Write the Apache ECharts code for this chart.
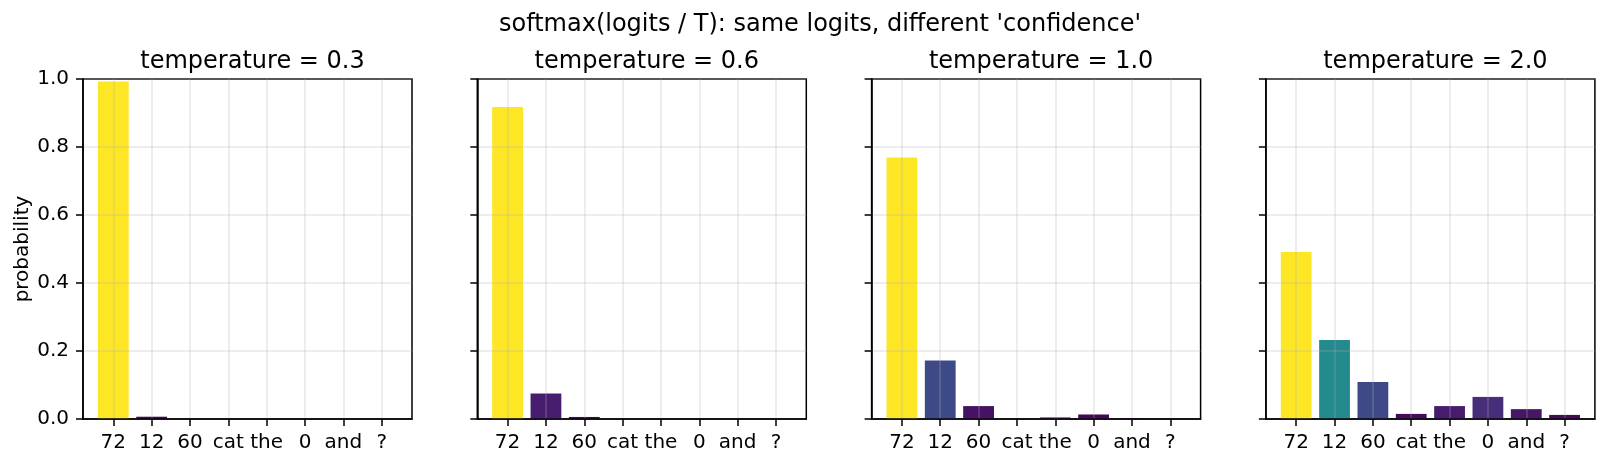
<!DOCTYPE html>
<html>
<head>
<meta charset="utf-8">
<script src="https://cdn.jsdelivr.net/npm/echarts@6/dist/echarts.min.js"></script>
<style>
  html, body { margin: 0; padding: 0; background: #fff; }
  #chart { width: 1607px; height: 464px; }
</style>
</head>
<body>
<div id="chart"></div>
<script>
// tokens on the x axis
var tokens = ['72', '12', '60', 'cat', 'the', '0', 'and', '?'];
var temperatures = ['0.3', '0.6', '1.0', '2.0'];
// probabilities, one array per temperature
var probT03 = [0.993, 0.0067, 0.0001, 0.0, 0.0, 0.0, 0.0, 0.0];
var probT06 = [0.918, 0.075, 0.006, 0.0001, 0.0003, 0.0008, 0.0002, 0.0];
var probT10 = [0.769, 0.172, 0.038, 0.0007, 0.0045, 0.0133, 0.0027, 0.0005];
var probT20 = [0.491, 0.232, 0.109, 0.015, 0.038, 0.065, 0.029, 0.012];

var probs = [probT03, probT06, probT10, probT20];
var viridis = ['#440154', '#482475', '#414487', '#355f8d', '#2a788e', '#21918c',
               '#22a884', '#44bf70', '#7ad151', '#bddf26', '#fde725'];
var FONT = 'DejaVu Sans';

var chart = echarts.init(document.getElementById('chart'));

var gridLeft0 = 83, gridStep = 394.3, gridW = 329, gridTop = 79, gridH = 340;
var tickIdx = tokens.map(function (t, i) { return i; });
var gridColor = 'rgba(176,176,176,0.3)';

var grids = [], xAxes = [], yAxes = [], series = [], vmaps = [];
var titles = [{
    text: "softmax(logits / T): same logits, different 'confidence'",
    left: 815, top: 8, textAlign: 'center',
    textStyle: { fontFamily: FONT, fontSize: 24, fontWeight: 'normal', color: '#000' }
}];

probs.forEach(function (p, k) {
    var left = gridLeft0 + k * gridStep;
    grids.push({
        left: left, top: gridTop, width: gridW, height: gridH,
        show: true, borderColor: '#000', borderWidth: 1.5, backgroundColor: 'transparent'
    });
    titles.push({
        text: 'temperature = ' + temperatures[k],
        left: left + gridW / 2, top: 45, textAlign: 'center',
        textStyle: { fontFamily: FONT, fontSize: 24, fontWeight: 'normal', color: '#000' }
    });
    xAxes.push({
        type: 'value', gridIndex: k, min: -0.79, max: 7.79, z: 3,
        axisLine: { show: true, onZero: false, lineStyle: { color: '#000', width: 1.5 } },
        axisTick: { show: true, length: 7, customValues: tickIdx, lineStyle: { color: '#000', width: 1.5 } },
        axisLabel: {
            customValues: tickIdx, margin: 14,
            fontFamily: FONT, fontSize: 20, color: '#000',
            formatter: function (v) { return tokens[Math.round(v)]; }
        },
        splitLine: { show: true, lineStyle: { color: gridColor, width: 1.5 } }
    });
    yAxes.push({
        type: 'value', gridIndex: k, min: 0, max: 1, interval: 0.2, z: 3,
        name: k === 0 ? 'probability' : '',
        nameLocation: 'middle', nameGap: 45,
        nameTextStyle: { fontFamily: FONT, fontSize: 20, color: '#000' },
        axisLine: { show: true, onZero: false, lineStyle: { color: '#000', width: 1.5 } },
        axisTick: { show: true, length: 7, lineStyle: { color: '#000', width: 1.5 } },
        axisLabel: {
            show: k === 0, margin: 14,
            fontFamily: FONT, fontSize: 20, color: '#000',
            formatter: function (v) { return v.toFixed(1); }
        },
        splitLine: { show: true, lineStyle: { color: gridColor, width: 1.5 } }
    });
    series.push({
        type: 'bar', xAxisIndex: k, yAxisIndex: k, z: 2,
        barWidth: 30.8,
        data: p.map(function (v, i) { return [i, v]; })
    });
    vmaps.push({
        show: false, seriesIndex: k, dimension: 1,
        min: 0, max: Math.max.apply(null, p),
        inRange: { color: viridis }
    });
});

chart.setOption({
    backgroundColor: '#fff',
    animation: false,
    title: titles,
    grid: grids,
    xAxis: xAxes,
    yAxis: yAxes,
    visualMap: vmaps,
    series: series
});
</script>
</body>
</html>
